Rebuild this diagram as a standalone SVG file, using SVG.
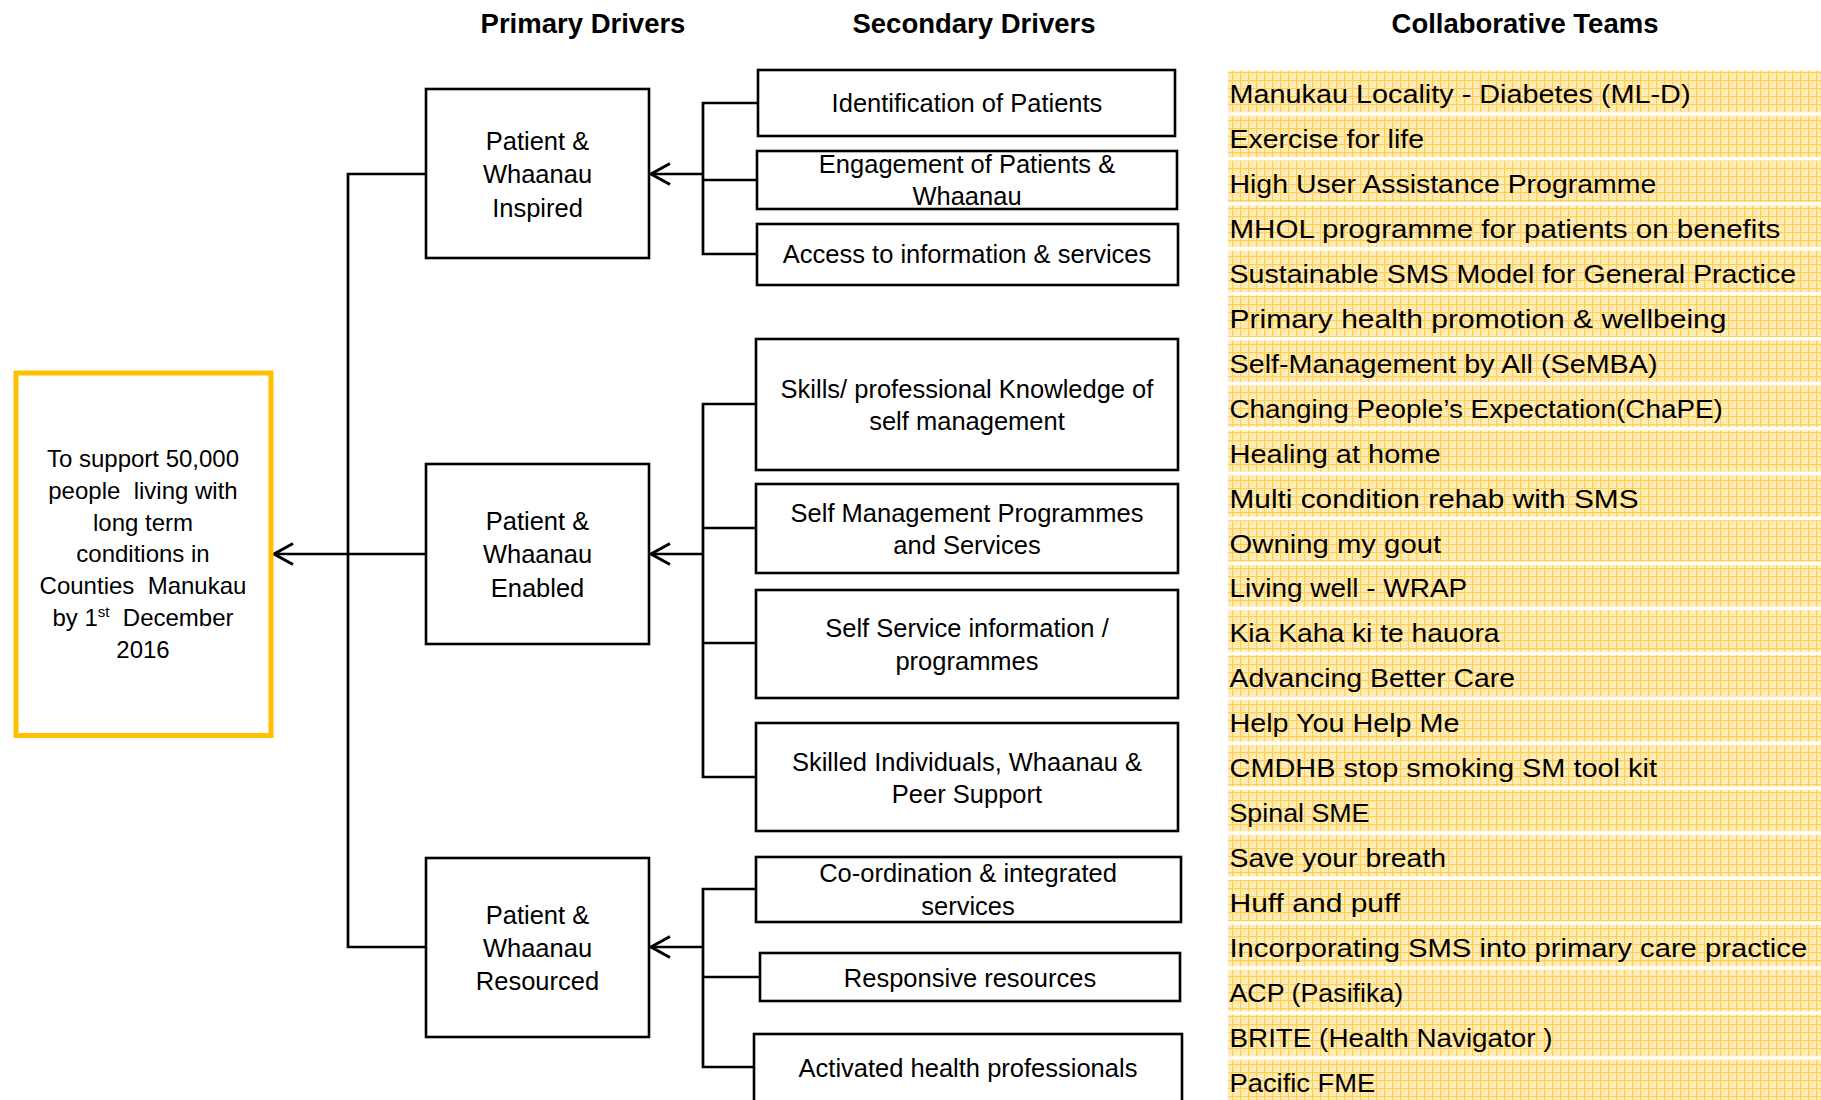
<svg xmlns="http://www.w3.org/2000/svg" width="1821" height="1100" viewBox="0 0 1821 1100">
<defs>
<style>
.title{font-family:"Liberation Sans",Arial,sans-serif;font-weight:bold;font-size:27.5px;fill:#000;text-anchor:middle}
.box{fill:#fff;stroke:#000;stroke-width:2.6}
.goal{fill:#fff;stroke:#FFC000;stroke-width:5}
.t{font-family:"Liberation Sans",Arial,sans-serif;font-size:25.5px;fill:#000;text-anchor:middle}
.g{font-family:"Liberation Sans",Arial,sans-serif;font-size:24px;fill:#000;text-anchor:middle}
.team{font-family:"Liberation Sans",Arial,sans-serif;font-size:25.5px;fill:#000}
.cell{fill:url(#grid)}
.line{fill:none;stroke:#000;stroke-width:2.7}
.arrow{fill:none;stroke:#000;stroke-width:2.7;marker-end:url(#open)}
</style>
<marker id="open" markerUnits="userSpaceOnUse" viewBox="-24 -14 28 28" markerWidth="28" markerHeight="28" refX="0" refY="0" orient="auto" overflow="visible">
<path d="M-19,-10.5 L0,0 L-19,10.5" fill="none" stroke="#000" stroke-width="3" stroke-linejoin="miter"/>
</marker>
<pattern id="grid" patternUnits="userSpaceOnUse" width="8" height="8">
<rect width="8" height="8" fill="#FFE7A3"/>
<path d="M2 2h1v1h-1zM4 2h1v1h-1zM6 2h1v1h-1zM3 3h1v1h-1zM5 3h1v1h-1zM7 3h1v1h-1zM2 4h1v1h-1zM4 4h1v1h-1zM6 4h1v1h-1zM3 5h1v1h-1zM5 5h1v1h-1zM7 5h1v1h-1zM2 6h1v1h-1zM4 6h1v1h-1zM6 6h1v1h-1zM3 7h1v1h-1zM5 7h1v1h-1zM7 7h1v1h-1z" fill="#FFF1C9"/>
<rect width="8" height="1" fill="#FFD050"/>
<rect width="1" height="8" fill="#FFD050"/>
</pattern>
</defs>
<rect width="1821" height="1100" fill="#fff"/>

<g id="headers">
<text class="title" x="583" y="33">Primary Drivers</text>
<text class="title" x="974" y="33">Secondary Drivers</text>
<text class="title" x="1525" y="33">Collaborative Teams</text>
</g>

<g id="connectors">
<path class="line" d="M425 174 H348 V947 H425"/>
<path class="arrow" d="M425 554 H274"/>
<path class="line" d="M757 103 H703 V254 H757 M703 180 H757"/>
<path class="arrow" d="M703 174 H651"/>
<path class="line" d="M756 404 H703 V777 H756 M703 528 H756 M703 643 H756"/>
<path class="arrow" d="M703 554 H651"/>
<path class="line" d="M756 889 H703 V1067 H754 M703 977 H760"/>
<path class="arrow" d="M703 947 H651"/>
</g>

<g id="goal">
<rect class="goal" x="16" y="373" width="255" height="362.5"/>
<text class="g" xml:space="preserve"><tspan x="143" y="467">To support 50,000</tspan><tspan x="143" y="498.8">people  living with</tspan><tspan x="143" y="530.6">long term</tspan><tspan x="143" y="562.4">conditions in</tspan><tspan x="143" y="594.2">Counties  Manukau</tspan></text>
<text class="g" xml:space="preserve" x="143" y="626">by 1<tspan dy="-9" font-size="15">st</tspan><tspan dy="9">  December</tspan></text>
<text class="g" x="143" y="657.8">2016</text>
</g>

<g id="pd-inspired">
<rect class="box" x="426" y="89" width="223" height="169"/>
<text class="t"><tspan x="537.5" y="150">Patient &amp;</tspan><tspan x="537.5" y="183.3">Whaanau</tspan><tspan x="537.5" y="216.6">Inspired</tspan></text>
</g>
<g id="pd-enabled">
<rect class="box" x="426" y="464" width="223" height="180"/>
<text class="t"><tspan x="537.5" y="530">Patient &amp;</tspan><tspan x="537.5" y="563.3">Whaanau</tspan><tspan x="537.5" y="596.6">Enabled</tspan></text>
</g>
<g id="pd-resourced">
<rect class="box" x="426" y="858" width="223" height="179"/>
<text class="t"><tspan x="537.5" y="923.5">Patient &amp;</tspan><tspan x="537.5" y="956.8">Whaanau</tspan><tspan x="537.5" y="990.1">Resourced</tspan></text>
</g>

<g id="sd-identification">
<rect class="box" x="758" y="70" width="417" height="66"/>
<text class="t" x="967" y="112">Identification of Patients</text>
</g>
<g id="sd-engagement">
<rect class="box" x="757" y="151" width="420" height="58"/>
<text class="t"><tspan x="967" y="173">Engagement of Patients &amp;</tspan><tspan x="967" y="205">Whaanau</tspan></text>
</g>
<g id="sd-access">
<rect class="box" x="757" y="224" width="421" height="61"/>
<text class="t" x="967" y="263">Access to information &amp; services</text>
</g>
<g id="sd-skills">
<rect class="box" x="756" y="339" width="422" height="131"/>
<text class="t"><tspan x="967" y="398">Skills/ professional Knowledge of</tspan><tspan x="967" y="430">self management</tspan></text>
</g>
<g id="sd-selfmgmt">
<rect class="box" x="756" y="484" width="422" height="89"/>
<text class="t"><tspan x="967" y="522">Self Management Programmes</tspan><tspan x="967" y="554">and Services</tspan></text>
</g>
<g id="sd-selfservice">
<rect class="box" x="756" y="590" width="422" height="108"/>
<text class="t"><tspan x="967" y="637">Self Service information /</tspan><tspan x="967" y="670">programmes</tspan></text>
</g>
<g id="sd-skilled">
<rect class="box" x="756" y="723" width="422" height="108"/>
<text class="t"><tspan x="967" y="771">Skilled Individuals, Whaanau &amp;</tspan><tspan x="967" y="803">Peer Support</tspan></text>
</g>
<g id="sd-coordination">
<rect class="box" x="756" y="857" width="425" height="65"/>
<text class="t"><tspan x="968" y="882">Co-ordination &amp; integrated</tspan><tspan x="968" y="915">services</tspan></text>
</g>
<g id="sd-responsive">
<rect class="box" x="760" y="953" width="420" height="48"/>
<text class="t" x="970" y="987">Responsive resources</text>
</g>
<g id="sd-activated">
<rect class="box" x="754" y="1034" width="428" height="100"/>
<text class="t" x="968" y="1077">Activated health professionals</text>
</g>

<g id="teams">
<g id="team-0"><rect class="cell" x="1228" y="70.7" width="594" height="41.5"/><text class="team" x="1229.5" y="103" textLength="461" lengthAdjust="spacingAndGlyphs">Manukau Locality - Diabetes (ML-D)</text></g>
<g id="team-1"><rect class="cell" x="1228" y="115.65" width="594" height="41.5"/><text class="team" x="1229.5" y="147.95" textLength="194.5" lengthAdjust="spacingAndGlyphs">Exercise for life</text></g>
<g id="team-2"><rect class="cell" x="1228" y="160.6" width="594" height="41.5"/><text class="team" x="1229.5" y="192.9" textLength="426.7" lengthAdjust="spacingAndGlyphs">High User Assistance Programme</text></g>
<g id="team-3"><rect class="cell" x="1228" y="205.55" width="594" height="41.5"/><text class="team" x="1229.5" y="237.85" textLength="550.9" lengthAdjust="spacingAndGlyphs">MHOL programme for patients on benefits</text></g>
<g id="team-4"><rect class="cell" x="1228" y="250.5" width="594" height="41.5"/><text class="team" x="1229.5" y="282.8" textLength="566.6" lengthAdjust="spacingAndGlyphs">Sustainable SMS Model for General Practice</text></g>
<g id="team-5"><rect class="cell" x="1228" y="295.45" width="594" height="41.5"/><text class="team" x="1229.5" y="327.75" textLength="497" lengthAdjust="spacingAndGlyphs">Primary health promotion &amp; wellbeing</text></g>
<g id="team-6"><rect class="cell" x="1228" y="340.4" width="594" height="41.5"/><text class="team" x="1229.5" y="372.7" textLength="428" lengthAdjust="spacingAndGlyphs">Self-Management by All (SeMBA)</text></g>
<g id="team-7"><rect class="cell" x="1228" y="385.35" width="594" height="41.5"/><text class="team" x="1229.5" y="417.65" textLength="493.4" lengthAdjust="spacingAndGlyphs">Changing People’s Expectation(ChaPE)</text></g>
<g id="team-8"><rect class="cell" x="1228" y="430.3" width="594" height="41.5"/><text class="team" x="1229.5" y="462.6" textLength="211" lengthAdjust="spacingAndGlyphs">Healing at home</text></g>
<g id="team-9"><rect class="cell" x="1228" y="475.25" width="594" height="41.5"/><text class="team" x="1229.5" y="507.55" textLength="409" lengthAdjust="spacingAndGlyphs">Multi condition rehab with SMS</text></g>
<g id="team-10"><rect class="cell" x="1228" y="520.2" width="594" height="41.5"/><text class="team" x="1229.5" y="552.5" textLength="211.6" lengthAdjust="spacingAndGlyphs">Owning my gout</text></g>
<g id="team-11"><rect class="cell" x="1228" y="565.15" width="594" height="41.5"/><text class="team" x="1229.5" y="597.45" textLength="237.7" lengthAdjust="spacingAndGlyphs">Living well - WRAP</text></g>
<g id="team-12"><rect class="cell" x="1228" y="610.1" width="594" height="41.5"/><text class="team" x="1229.5" y="642.4" textLength="270" lengthAdjust="spacingAndGlyphs">Kia Kaha ki te hauora</text></g>
<g id="team-13"><rect class="cell" x="1228" y="655.05" width="594" height="41.5"/><text class="team" x="1229.5" y="687.35" textLength="285.6" lengthAdjust="spacingAndGlyphs">Advancing Better Care</text></g>
<g id="team-14"><rect class="cell" x="1228" y="700" width="594" height="41.5"/><text class="team" x="1229.5" y="732.3" textLength="230" lengthAdjust="spacingAndGlyphs">Help You Help Me</text></g>
<g id="team-15"><rect class="cell" x="1228" y="744.95" width="594" height="41.5"/><text class="team" x="1229.5" y="777.25" textLength="427.5" lengthAdjust="spacingAndGlyphs">CMDHB stop smoking SM tool kit</text></g>
<g id="team-16"><rect class="cell" x="1228" y="789.9" width="594" height="41.5"/><text class="team" x="1229.5" y="822.2" textLength="140" lengthAdjust="spacingAndGlyphs">Spinal SME</text></g>
<g id="team-17"><rect class="cell" x="1228" y="834.85" width="594" height="41.5"/><text class="team" x="1229.5" y="867.15" textLength="216.6" lengthAdjust="spacingAndGlyphs">Save your breath</text></g>
<g id="team-18"><rect class="cell" x="1228" y="879.8" width="594" height="41.5"/><text class="team" x="1229.5" y="912.1" textLength="170.6" lengthAdjust="spacingAndGlyphs">Huff and puff</text></g>
<g id="team-19"><rect class="cell" x="1228" y="924.75" width="594" height="41.5"/><text class="team" x="1229.5" y="957.05" textLength="577.7" lengthAdjust="spacingAndGlyphs">Incorporating SMS into primary care practice</text></g>
<g id="team-20"><rect class="cell" x="1228" y="969.7" width="594" height="41.5"/><text class="team" x="1229.5" y="1002" textLength="173.7" lengthAdjust="spacingAndGlyphs">ACP (Pasifika)</text></g>
<g id="team-21"><rect class="cell" x="1228" y="1014.65" width="594" height="41.5"/><text class="team" x="1229.5" y="1046.95" textLength="323" lengthAdjust="spacingAndGlyphs">BRITE (Health Navigator )</text></g>
<g id="team-22"><rect class="cell" x="1228" y="1059.6" width="594" height="41.5"/><text class="team" x="1229.5" y="1091.9" textLength="145.7" lengthAdjust="spacingAndGlyphs">Pacific FME</text></g>
</g>
</svg>
